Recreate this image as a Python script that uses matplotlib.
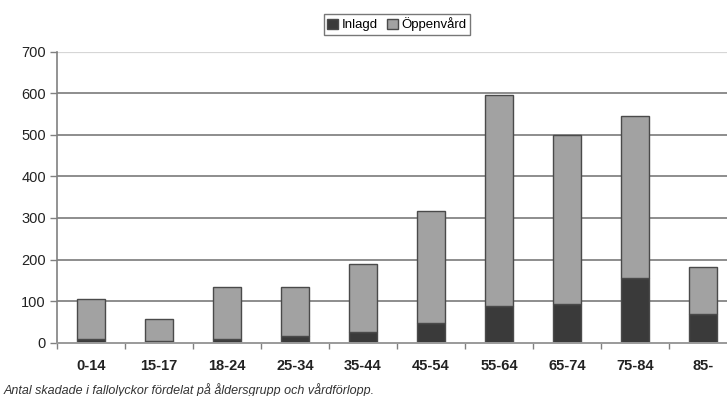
import matplotlib
matplotlib.use("Agg")
import matplotlib.pyplot as plt
import numpy as np
from matplotlib.patches import Patch

plt.rcParams['font.family'] = ['Liberation Sans', 'DejaVu Sans']

age_groups = ["0-14", "15-17", "18-24", "25-34", "35-44", "45-54", "55-64", "65-74", "75-84", "85-"]
inlagd = [8, 3, 10, 16, 25, 47, 89, 94, 155, 70]
oppenvard = [97, 54, 125, 117, 165, 270, 506, 405, 390, 111]
y_ticks = [0, 100, 200, 300, 400, 500, 600, 700]
caption = "Antal skadade i fallolyckor fördelat på åldersgrupp och vårdförlopp."

W, H = 727, 396
fig = plt.figure(figsize=(W / 100, H / 100), dpi=100)
left, right = 57 / W, 737 / W
bottom, top = (H - 342.7) / H, (H - 51.7) / H
ax = fig.add_axes([left, bottom, right - left, top - bottom])

x = np.arange(len(age_groups))
dark, light, edge = "#3a3a3a", "#a2a2a2", "#4a4a4a"
bw = 0.41
ax.bar(x, inlagd, bw, color=dark, edgecolor=edge, linewidth=1.0, zorder=3)
ax.bar(x, oppenvard, bw, bottom=inlagd, color=light, edgecolor=edge, linewidth=1.0, zorder=3)

ax.set_xlim(-0.5, len(age_groups) - 0.5)
ax.set_ylim(0, 700)

for v in y_ticks[1:-1]:
    ax.axhline(v, color="#7a7a7a", lw=1.2, zorder=1)
ax.axhline(700, color="#d6d6d6", lw=1.6, zorder=1)

for s in ["top", "right"]:
    ax.spines[s].set_visible(False)
ax.spines["left"].set_color("#808080")
ax.spines["left"].set_linewidth(1.2)
ax.spines["bottom"].set_color("#9a9a9a")
ax.spines["bottom"].set_linewidth(1.4)
ax.spines["bottom"].set_zorder(4)

ax.set_yticks(y_ticks)
ax.set_yticklabels([str(v) for v in y_ticks], fontsize=10.5, color="#222222")
ax.tick_params(axis="y", length=5, width=1.0, color="#808080", pad=3)

ax.set_xticks(x)
ax.set_xticklabels(age_groups, fontsize=10.5, fontweight="bold", color="#222222")
ax.tick_params(axis="x", which="major", length=0, pad=12)
ax.set_xticks(np.arange(-0.5, len(age_groups), 1.0), minor=True)
ax.tick_params(axis="x", which="minor", length=4, width=1.0, color="#808080")

handles = [Patch(facecolor=dark, edgecolor=edge, label="Inlagd"),
           Patch(facecolor=light, edgecolor=edge, label="Öppenvård")]
fig.legend(handles=handles, loc="center", bbox_to_anchor=(397 / W, (H - 24.5) / H),
           ncol=2, fontsize=9.5, frameon=True, fancybox=False, edgecolor="#555555",
           handlelength=0.8, handleheight=0.8, handletextpad=0.3, columnspacing=0.7,
           borderpad=0.25, borderaxespad=0)

fig.text(4 / W, (H - 390) / H, caption, fontsize=9, style="italic",
         color="#333333", ha="left", va="center")

fig.savefig("out.png", dpi=100)
